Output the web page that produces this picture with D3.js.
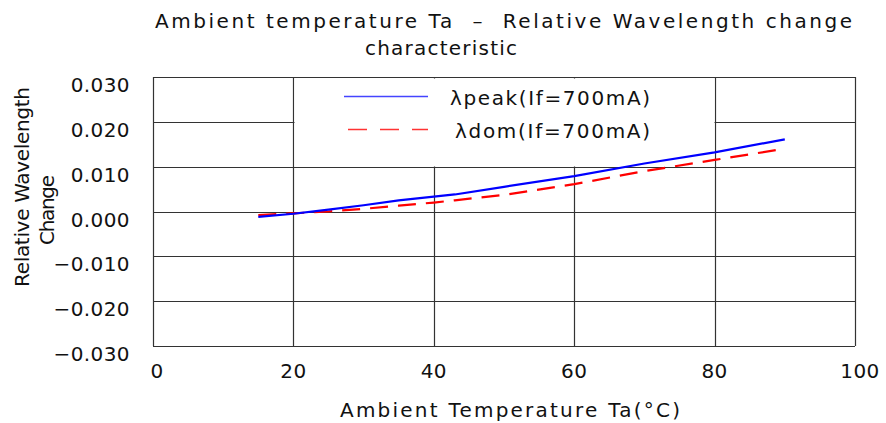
<!DOCTYPE html>
<html><head><meta charset="utf-8">
<script src="https://cdn.jsdelivr.net/npm/d3@7"></script>
<style>
html,body{margin:0;padding:0;background:#fff;}
text{font-family:"DejaVu Sans",sans-serif;fill:#111;white-space:pre;}
</style></head>
<body><svg id="c" width="886" height="423"></svg>
<script>
const temps = [15,20,25,30,35,40,43,50,60,70,80,90];
const peakValues = [-0.0012,-0.0005,0.0004,0.0014,0.0025,0.0033,0.0038,0.0055,0.0079,0.0107,0.0132,0.0161];
const domValues  = [-0.0008,-0.0004,0.0000,0.0006,0.0013,0.0020,0.0025,0.0037,0.0061,0.0090,0.0115,0.0140];
const xTicks = [0,20,40,60,80,100];
const yTicks = [0.030,0.020,0.010,0.000,-0.010,-0.020,-0.030];
const seriesNames = ["λpeak(If=700mA)","λdom(If=700mA)"];
const titleLines = ["Ambient temperature Ta  –  Relative Wavelength change","characteristic"];
const xTitle = "Ambient Temperature Ta(°C)";
const yTitleLines = ["Relative Wavelength","Change"];

const svg = d3.select("#c");
const L=153,R=855,T=77,B=346;
const x = d3.scaleLinear().domain([0,100]).range([L,R]);
const y = d3.scaleLinear().domain([-0.03,0.03]).range([B,T]);

const g = svg.append("g");
g.selectAll("line.h").data(yTicks).enter().append("line")
  .attr("x1",L).attr("x2",R).attr("y1",d=>Math.round(y(d))+0.5).attr("y2",d=>Math.round(y(d))+0.5)
  .attr("stroke","#333").attr("stroke-width",1.2);
g.selectAll("line.v").data(xTicks).enter().append("line")
  .attr("y1",T).attr("y2",B).attr("x1",d=>Math.round(x(d))+0.5).attr("x2",d=>Math.round(x(d))+0.5)
  .attr("stroke","#333").attr("stroke-width",1.2);

const lx0=Math.round(x(20))+1.5, lx1=Math.round(x(80))-0.5;
const ly0=Math.round(y(0.03))+1.5, ly1=Math.round(y(0.01))-0.5;
g.append("rect").attr("x",lx0).attr("y",ly0).attr("width",lx1-lx0).attr("height",ly1-ly0).attr("fill","#fff");

svg.selectAll("text.yt").data(yTicks).enter().append("text")
  .attr("x",130).attr("y",d=>y(d)+15).attr("text-anchor","end")
  .attr("font-size",20).attr("letter-spacing",0.4)
  .text(d=>(d<0?"−":"")+Math.abs(d).toFixed(3));
svg.selectAll("text.xt").data(xTicks).enter().append("text")
  .attr("x",d=>x(d)+(d===0?4:(d===100?5:0))).attr("y",378).attr("text-anchor","middle")
  .attr("font-size",20).attr("letter-spacing",0.4)
  .text(d=>d);

const mk = vals => d3.line().x((d,i)=>x(temps[i])).y(d=>y(d))(vals);
g.append("path").attr("d",mk(domValues)).attr("fill","none").attr("stroke","#ff0000").attr("stroke-width",2.2).attr("stroke-dasharray","18,10");
g.append("path").attr("d",mk(peakValues)).attr("fill","none").attr("stroke","#0000ff").attr("stroke-width",2.2);

svg.append("line").attr("x1",344).attr("x2",428).attr("y1",96.5).attr("y2",96.5).attr("stroke","#4444ff").attr("stroke-width",1.3);
svg.append("line").attr("x1",348).attr("x2",428).attr("y1",129.5).attr("y2",129.5).attr("stroke","#ff3333").attr("stroke-width",1.3).attr("stroke-dasharray","19,13");
svg.append("text").attr("x",450).attr("y",105).attr("font-size",20).attr("textLength",200).attr("lengthAdjust","spacing").text(seriesNames[0]);
svg.append("text").attr("x",455).attr("y",138).attr("font-size",20).attr("textLength",195).attr("lengthAdjust","spacing").text(seriesNames[1]);

svg.append("text").attr("x",155).attr("y",28).attr("font-size",20).attr("textLength",697).attr("lengthAdjust","spacing").text(titleLines[0]);
svg.append("text").attr("x",365).attr("y",55).attr("font-size",20).attr("textLength",152).attr("lengthAdjust","spacing").text(titleLines[1]);
svg.append("text").attr("x",340).attr("y",417).attr("font-size",20).attr("textLength",340).attr("lengthAdjust","spacing").text(xTitle);
svg.append("text").attr("transform","translate(29,187) rotate(-90)").attr("text-anchor","middle").attr("font-size",20).attr("textLength",200).attr("lengthAdjust","spacing").text(yTitleLines[0]);
svg.append("text").attr("transform","translate(54,210) rotate(-90)").attr("text-anchor","middle").attr("font-size",20).attr("textLength",70).attr("lengthAdjust","spacing").text(yTitleLines[1]);
</script></body></html>
